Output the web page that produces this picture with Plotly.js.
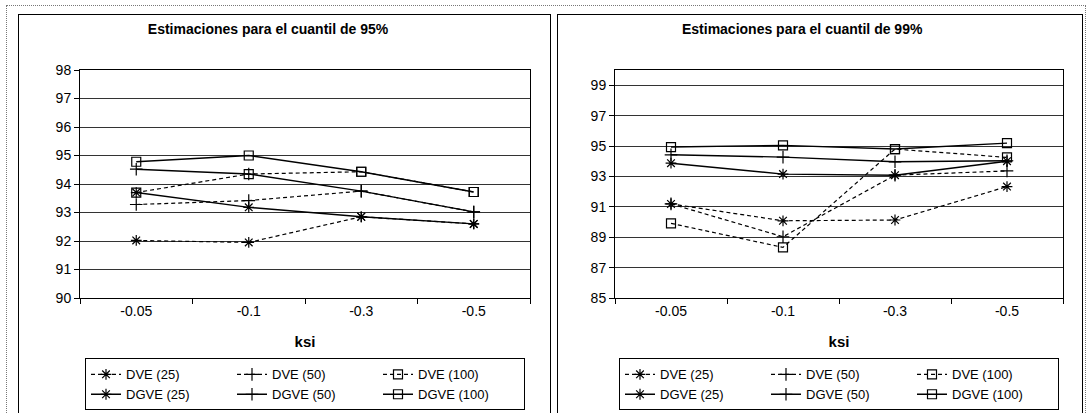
<!DOCTYPE html>
<html>
<head>
<meta charset="utf-8">
<script src="https://cdn.plot.ly/plotly-3.0.1.min.js"></script>
<style>
  html, body { margin: 0; padding: 0; background: #fff; width: 1088px; height: 413px; overflow: hidden; }
  #frame { position: absolute; left: 6px; top: 5px; width: 1080px; height: 430px; border: 1px dotted #777; box-sizing: border-box; }
  .panel { position: absolute; top: 14px; height: 420px; border: 1px solid #000; box-sizing: border-box; background: #fff; }
  #p1 { left: 18px; width: 533px; }
  #p2 { left: 557px; width: 526px; }
  .chart { position: absolute; left: 0; top: 0; }
</style>
</head>
<body>
<div id="frame"></div>
<div class="panel" id="p1"><div class="chart" id="c1"></div></div>
<div class="panel" id="p2"><div class="chart" id="c2"></div></div>
<script>
// ksi values on the category axis
const ksi = ['-0.05', '-0.1', '-0.3', '-0.5'];
const seriesNames = ['DVE (25)', 'DVE (50)', 'DVE (100)', 'DGVE (25)', 'DGVE (50)', 'DGVE (100)'];

// Estimates for the 95% quantile
const q95_dve25   = [92.02, 91.95, 92.85, 92.60];
const q95_dve50   = [93.28, 93.42, 93.75, 93.02];
const q95_dve100  = [93.70, 94.35, 94.43, 93.72];
const q95_dgve25  = [93.70, 93.18, 92.85, 92.60];
const q95_dgve50  = [94.52, 94.35, 93.75, 93.02];
const q95_dgve100 = [94.78, 95.00, 94.43, 93.72];

// Estimates for the 99% quantile
const q99_dve25   = [91.19, 90.08, 90.13, 92.33];
const q99_dve50   = [91.19, 89.03, 93.08, 93.36];
const q99_dve100  = [89.91, 88.33, 94.80, 94.25];
const q99_dgve25  = [93.87, 93.15, 93.08, 94.00];
const q99_dgve50  = [94.42, 94.27, 93.96, 94.03];
const q99_dgve100 = [94.93, 95.04, 94.80, 95.19];

const q95Ticks = [90, 91, 92, 93, 94, 95, 96, 97, 98];
const q99Ticks = [85, 87, 89, 91, 93, 95, 97, 99];

const FONT = '"Liberation Sans", Arial, Helvetica, sans-serif';
const symbols = ['asterisk-open', 'cross-thin-open', 'square-open'];

function makeTraces(seriesList) {
  return seriesList.map((vals, i) => ({
    type: 'scatter',
    mode: 'lines+markers',
    x: ksi,
    y: vals,
    name: seriesNames[i],
    line: { color: '#000', width: i < 3 ? 1.2 : 1.4, dash: i < 3 ? '4px,3px' : 'solid' },
    marker: { symbol: symbols[i % 3], size: 9, color: '#000', line: { color: '#000', width: 1.2 } }
  }));
}

function makeLayout(titleText, titleX, width, ml, mr, yRange, yTicks) {
  return {
    width: width,
    height: 398,
    margin: { l: ml, r: mr, t: 55, b: 115, autoexpand: false },
    paper_bgcolor: '#fff',
    plot_bgcolor: '#fff',
    font: { family: FONT, color: '#000', size: 14 },
    showlegend: true,
    title: {
      text: '<b>' + titleText + '</b>',
      font: { family: FONT, size: 14, color: '#000' },
      x: titleX, xref: 'container', xanchor: 'center',
      y: 1 - 14 / 398, yref: 'container', yanchor: 'middle'
    },
    xaxis: {
      type: 'category',
      range: [-0.5, 3.5],
      tickson: 'boundaries',
      ticks: 'outside', ticklen: 5, tickwidth: 1, tickcolor: '#000',
      showline: true, linecolor: '#000', linewidth: 1, mirror: true,
      showgrid: false, zeroline: false,
      tickfont: { family: FONT, size: 14, color: '#000' },
      title: { text: '<b>ksi</b>', font: { family: FONT, size: 15, color: '#000' }, standoff: 18 },
      automargin: false, fixedrange: true
    },
    yaxis: {
      range: yRange,
      tickvals: yTicks,
      ticktext: yTicks.map(String),
      ticks: 'outside', ticklen: 5, tickwidth: 1, tickcolor: '#000',
      showline: true, linecolor: '#000', linewidth: 1, mirror: true,
      showgrid: true, gridcolor: '#333', gridwidth: 1, zeroline: false,
      tickfont: { family: FONT, size: 14, color: '#000' },
      automargin: false, fixedrange: true
    },
    legend: {
      orientation: 'h',
      x: 0.5, xanchor: 'center', xref: 'paper',
      y: -0.265, yanchor: 'top', yref: 'paper',
      bordercolor: '#000', borderwidth: 1, bgcolor: '#fff',
      font: { family: FONT, size: 13, color: '#000' },
      itemwidth: 30,
      entrywidth: 101, entrywidthmode: 'pixels',
      tracegroupgap: 0,
      traceorder: 'normal'
    }
  };
}

const config = { staticPlot: true, displayModeBar: false };

Plotly.newPlot('c1',
  makeTraces([q95_dve25, q95_dve50, q95_dve100, q95_dgve25, q95_dgve50, q95_dgve100]),
  makeLayout('Estimaciones para el cuantil de 95%', 0.469, 531, 61, 20, [90, 98], q95Ticks),
  config);

Plotly.newPlot('c2',
  makeTraces([q99_dve25, q99_dve50, q99_dve100, q99_dgve25, q99_dgve50, q99_dgve100]),
  makeLayout('Estimaciones para el cuantil de 99%', 0.466, 524, 57, 19, [85, 100], q99Ticks),
  config);
</script>
</body>
</html>
